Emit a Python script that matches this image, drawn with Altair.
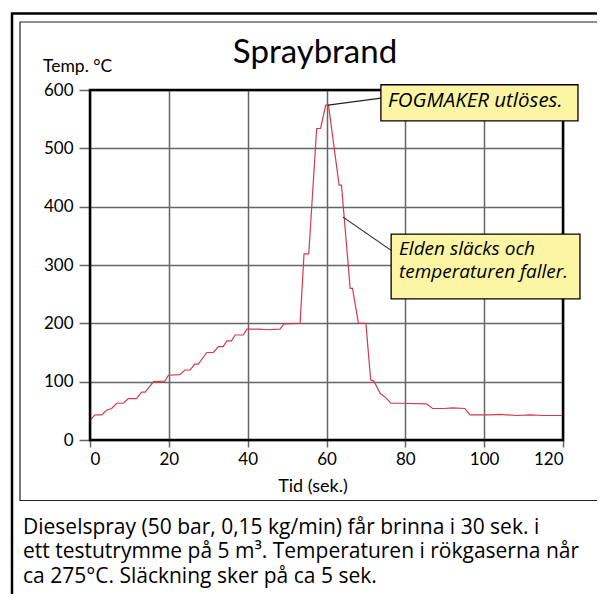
import altair as alt
import pandas as pd

# ---- data ----
time_s = [0, 1.3, 3.0, 4.2, 5.5, 6.8, 8.5, 9.7, 11.8, 13.1, 14.0, 16.1, 19.0, 19.9,
          22.8, 24.1, 25.4, 26.6, 27.5, 29.6, 31.3, 32.6, 33.8, 34.7, 35.9, 36.8,
          38.9, 39.8, 43.1, 44.8, 48.2, 49.2, 53.3, 54.3, 55.5, 57.5, 58.5, 59.8,
          60.5, 63.2, 63.8, 66.0, 66.6, 68.1, 70.0, 71.2, 72.0, 73.6, 75.3, 76.3,
          78.6, 85.4, 86.9, 89.7, 92.0, 95.1, 96.4, 101.5, 104.0, 108.3, 111.7,
          115.0, 119.7]
temp_c = [34, 43, 43, 51, 54, 63, 63, 71, 71, 82, 82, 100, 101, 111,
          112, 120, 120, 130, 130, 150, 150, 160, 160, 170, 170, 180,
          180, 190, 190, 189, 190, 199, 200, 319, 319, 534, 534, 574,
          574, 437, 437, 260, 260, 200, 200, 103, 101, 80, 71, 63,
          63, 62, 54, 54, 55, 54, 43, 43, 44, 42, 43,
          42, 42]

x_ticks = [0, 20, 40, 60, 80, 100, 120]
y_ticks = [0, 100, 200, 300, 400, 500, 600]

title_text = "Spraybrand"
y_title = "Temp. °C"
x_title = "Tid (sek.)"
caption_lines = [
    "Dieselspray (50 bar, 0,15 kg/min) får brinna i 30 sek. i",
    "ett testutrymme på 5 m³. Temperaturen i rökgaserna når",
    "ca 275°C. Släckning sker på ca 5 sek.",
]

# annotations (data units: seconds / °C)
note_text = ["FOGMAKER utlöses.", "Elden släcks och", "temperaturen faller."]
note_tx = [75.6, 78.4, 78.4]
note_ty = [581, 327, 287.5]
note_fs = [20.5, 19, 19]
box_t1 = [73.8, 76.4]
box_t2 = [123.8, 124.3]
box_y1 = [547, 242]
box_y2 = [609, 353]
lead_t1 = [60.4, 64.2]
lead_y1 = [574, 382]
lead_t2 = [73.8, 76.4]
lead_y2 = [586, 325]

FONT = "Lato"
FONT2 = "Open Sans"
PW, PH = 473, 350

xs = alt.Scale(domain=[0, 120], nice=False, zero=False)
ys = alt.Scale(domain=[0, 600], nice=False)

df = pd.DataFrame({"t": time_s, "temp": temp_c})

line = alt.Chart(df).mark_line(color="#d23a52", strokeWidth=1.2).encode(
    x=alt.X("t:Q", scale=xs, axis=alt.Axis(
        values=x_ticks, title=None, grid=True, domain=False,
        tickSize=7, tickColor="#666", tickWidth=1.5,
        gridColor="#666", gridWidth=1.5, gridOpacity=1,
        labelFont=FONT, labelFontSize=17, labelColor="black", labelPadding=4,
        format="d")),
    y=alt.Y("temp:Q", scale=ys, axis=alt.Axis(
        values=y_ticks, title=None, grid=True, domain=False,
        tickSize=11, tickColor="#666", tickWidth=1.5,
        gridColor="#666", gridWidth=1.5, gridOpacity=1,
        labelFont=FONT, labelFontSize=17, labelColor="black", labelPadding=6,
        format="d")),
)

border = alt.Chart(pd.DataFrame({"a": [0]})).mark_rect(
    fillOpacity=0, stroke="black", strokeWidth=2.5
).encode(x=alt.value(0), x2=alt.value(PW), y=alt.value(0), y2=alt.value(PH))

outer = alt.Chart(pd.DataFrame({"a": [0]})).mark_rect(
    fillOpacity=0, stroke="black", strokeWidth=2.5
).encode(x=alt.value(-78), x2=alt.value(640), y=alt.value(-76.5), y2=alt.value(640))

inner = alt.Chart(pd.DataFrame({"a": [0]})).mark_rect(
    fillOpacity=0, stroke="#222", strokeWidth=1.2
).encode(x=alt.value(-70), x2=alt.value(640), y=alt.value(-68), y2=alt.value(410.5))

lead_df = pd.DataFrame({"t1": lead_t1, "y1": lead_y1, "t2": lead_t2, "y2": lead_y2})
leaders = alt.Chart(lead_df).mark_rule(color="#222", strokeWidth=1.1).encode(
    x=alt.X("t1:Q", scale=xs), y=alt.Y("y1:Q", scale=ys),
    x2="t2:Q", y2="y2:Q")

box_df = pd.DataFrame({"t1": box_t1, "t2": box_t2, "y1": box_y1, "y2": box_y2})
boxes = alt.Chart(box_df).mark_rect(
    fill="#fbf5a4", stroke="black", strokeWidth=1.3
).encode(x=alt.X("t1:Q", scale=xs), x2="t2:Q",
         y=alt.Y("y1:Q", scale=ys), y2="y2:Q")

note_df = pd.DataFrame({"t": note_tx, "y": note_ty, "txt": note_text, "fs": note_fs})
notes = alt.Chart(note_df).mark_text(
    font=FONT2, fontStyle="italic", align="left",
    baseline="middle", color="black"
).encode(x=alt.X("t:Q", scale=xs), y=alt.Y("y:Q", scale=ys), text="txt:N",
         size=alt.Size("fs:Q", scale=None, legend=None))

title = alt.Chart(pd.DataFrame({"a": [0]})).mark_text(
    text=title_text, font=FONT, fontSize=33, align="center",
    baseline="alphabetic", color="black"
).encode(x=alt.value(225), y=alt.value(-27))

ytitle = alt.Chart(pd.DataFrame({"a": [0]})).mark_text(
    text=y_title, font=FONT, fontSize=17.5, align="left",
    baseline="alphabetic", color="black"
).encode(x=alt.value(-47), y=alt.value(-18))

xtitle = alt.Chart(pd.DataFrame({"a": [0]})).mark_text(
    text=x_title, font=FONT, fontSize=18, align="center",
    baseline="alphabetic", color="black"
).encode(x=alt.value(223), y=alt.value(402))

caption = alt.Chart(pd.DataFrame({"a": [0]})).mark_text(
    text=caption_lines, font=FONT2, fontSize=21, align="left",
    baseline="alphabetic", color="black", lineHeight=24.6
).encode(x=alt.value(-67), y=alt.value(443.5))

chart = alt.layer(
    outer, inner, line, border, leaders, boxes, notes,
    title, ytitle, xtitle, caption
).properties(
    width=PW, height=PH,
    autosize=alt.AutoSizeParams(type="none"),
    padding={"left": 82, "top": 82, "right": 34, "bottom": 154},
    background="white",
).configure_view(stroke=None)

chart.save("out.html", embed_options={"renderer": "svg", "actions": False})
